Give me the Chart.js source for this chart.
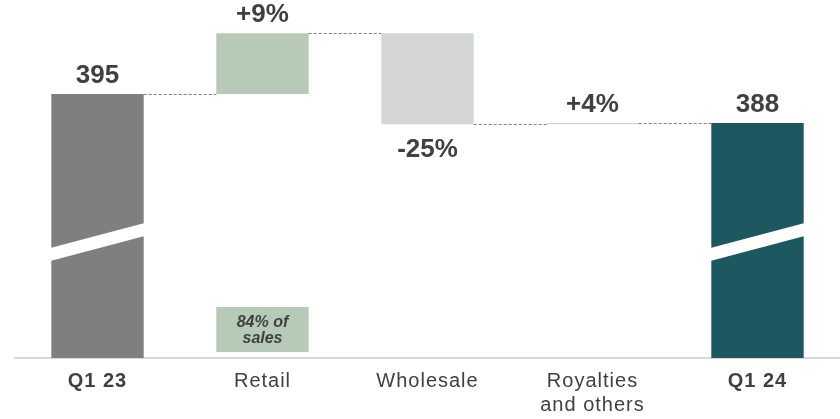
<!DOCTYPE html>
<html>
<head>
<meta charset="utf-8">
<script src="https://cdn.jsdelivr.net/npm/chart.js@4.4.1/dist/chart.umd.min.js"></script>
<style>
  html, body { margin: 0; padding: 0; background: #ffffff; }
  #wrap { width: 840px; height: 419px; position: relative; }
</style>
</head>
<body>
<div id="wrap"><canvas id="c" width="840" height="419"></canvas></div>
<script>
// ---- Data ----
const categories = ['Q1 23', 'Retail', 'Wholesale', ['Royalties', 'and others'], 'Q1 24'];
const barKinds = ['total', 'delta', 'delta', 'delta', 'total'];
const barValues = [395, 14.7, -22, 0.3, 388];          // totals in level, deltas as change
const valueLabels = ['395', '+9%', '-25%', '+4%', '388'];
const boldCategory = [true, false, false, false, true];
const barColors = ['#7f7f7f', '#b7cab8', '#d5d6d8', '#d3d3d3', '#1d5760'];
const noteText = ['84% of', 'sales'];   // note under Retail
const noteIndex = 1;

// broken axis: visible range of the value axis
const AXIS_MIN = 331.3;
const AXIS_MAX = 417.7;

// build floating bars from the values
const floating = [];
const levels = [];
let running = 0;
barValues.forEach((v, i) => {
  if (barKinds[i] === 'total') {
    floating.push([AXIS_MIN, v]);
    running = v;
  } else {
    floating.push([running, running + v]);
    running = running + v;
  }
  levels.push(running);
});

const TEXT = '#404040';

const waterfallPlugin = {
  id: 'waterfall',
  beforeDraw(chart) {
    chart.ctx.letterSpacing = '1px';
  },
  beforeDatasetsDraw(chart) {
    chart.ctx.letterSpacing = '0px';
  },
  afterDatasetsDraw(chart) {
    const ctx = chart.ctx;
    const meta = chart.getDatasetMeta(0);
    const yScale = chart.scales.y;
    const els = meta.data;
    ctx.save();
    ctx.letterSpacing = '0px';

    // break marks on total bars
    els.forEach((el, i) => {
      if (barKinds[i] !== 'total') return;
      const half = el.width / 2;
      const bottom = chart.chartArea.bottom;
      const l = el.x - half, r = el.x + half;
      ctx.fillStyle = '#ffffff';
      ctx.beginPath();
      ctx.moveTo(l - 1, bottom - 110);
      ctx.lineTo(r + 1, bottom - 135);
      ctx.lineTo(r + 1, bottom - 122);
      ctx.lineTo(l - 1, bottom - 97);
      ctx.closePath();
      ctx.fill();
    });

    // dashed connectors
    ctx.strokeStyle = '#808080';
    ctx.lineWidth = 1;
    ctx.setLineDash([3, 2]);
    for (let i = 0; i < els.length - 1; i++) {
      const a = els[i], b = els[i + 1];
      const y = Math.round(yScale.getPixelForValue(levels[i])) + 0.5;
      ctx.beginPath();
      ctx.moveTo(a.x + a.width / 2, y);
      ctx.lineTo(b.x - b.width / 2, y);
      ctx.stroke();
    }
    ctx.setLineDash([]);

    // value labels
    ctx.fillStyle = TEXT;
    ctx.font = 'bold 26px "Liberation Sans", Arial, sans-serif';
    ctx.textAlign = 'center';
    ctx.textBaseline = 'alphabetic';
    els.forEach((el, i) => {
      const top = Math.min(el.y, el.base);
      const bot = Math.max(el.y, el.base);
      if (barKinds[i] === 'delta' && barValues[i] < 0) {
        ctx.fillText(valueLabels[i], el.x, bot + 33);
      } else {
        ctx.fillText(valueLabels[i], el.x, top - 11);
      }
    });

    // note box under Retail
    const ne = els[noteIndex];
    const bottom = chart.chartArea.bottom;
    ctx.fillStyle = barColors[noteIndex];
    ctx.fillRect(ne.x - ne.width / 2, bottom - 51, ne.width, 45);
    ctx.fillStyle = TEXT;
    ctx.font = 'italic bold 16px "Liberation Sans", Arial, sans-serif';
    ctx.fillText(noteText[0], ne.x, bottom - 31);
    ctx.fillText(noteText[1], ne.x, bottom - 15);
    ctx.restore();
  }
};

new Chart(document.getElementById('c'), {
  type: 'bar',
  data: {
    labels: categories,
    datasets: [{
      data: floating,
      backgroundColor: barColors,
      borderWidth: 0,
      barPercentage: 0.56,
      categoryPercentage: 1.0,
      minBarLength: 1
    }]
  },
  options: {
    responsive: false,
    animation: false,
    devicePixelRatio: 1,
    layout: { padding: { left: 15, right: 0, top: 0, bottom: 0 } },
    plugins: { legend: { display: false }, tooltip: { enabled: false } },
    scales: {
      x: {
        grid: { display: false, drawTicks: false, tickLength: 0 },
        border: { display: true, color: '#d9d9d9', width: 2 },
        ticks: {
          padding: 11,
          color: TEXT,
          maxRotation: 0,
          autoSkip: false,
          font: (ctx) => ({
            family: '"Liberation Sans", Arial, sans-serif',
            size: 20,
            weight: boldCategory[ctx.index] ? 'bold' : 'normal',
            lineHeight: 1.2
          })
        },
        afterFit(scale) { scale.height = 61; }
      },
      y: {
        display: false,
        min: AXIS_MIN,
        max: AXIS_MAX
      }
    }
  },
  plugins: [waterfallPlugin]
});
</script>
</body>
</html>
